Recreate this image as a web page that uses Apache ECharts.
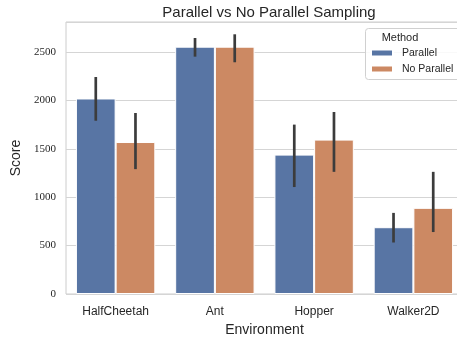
<!DOCTYPE html>
<html>
<head>
<meta charset="utf-8">
<script src="https://cdn.jsdelivr.net/npm/echarts@6/dist/echarts.min.js"></script>
<style>
  html, body { margin: 0; padding: 0; background: #fff; }
  #chart { width: 457px; height: 339px; }
</style>
</head>
<body>
<div id="chart"></div>
<script>
// Environments on the x axis
const environments = ['HalfCheetah', 'Ant', 'Hopper', 'Walker2D'];

// Mean score per environment
const parallelScores   = [2020, 2555, 1440, 690];
const noParallelScores = [1570, 2555, 1595, 890];

// Confidence interval bounds (low / high)
const parallelLow    = [1790, 2452, 1105, 532];
const parallelHigh   = [2242, 2645, 1750, 838];
const noParallelLow  = [1290, 2394, 1262, 640];
const noParallelHigh = [1870, 2683, 1880, 1262];

// Y axis ticks
const yTicks = [0, 500, 1000, 1500, 2000, 2500];

const ink = '#262626';
const blue = '#5875a4';
const orange = '#cc8963';

function errorSeries(name, low, high, offset) {
  return {
    type: 'custom',
    name: name + ' CI',
    z: 5,
    silent: true,
    data: low.map((v, i) => [i, v, high[i]]),
    encode: { x: 0, y: [1, 2] },
    renderItem: function (params, api) {
      const i = api.value(0);
      const lo = api.coord([i, api.value(1)]);
      const hi = api.coord([i, api.value(2)]);
      const band = api.size([1, 0])[0];
      const x = lo[0] + offset * band;
      return {
        type: 'line',
        shape: { x1: x, y1: lo[1], x2: x, y2: hi[1] },
        style: { stroke: '#3c3c3c', lineWidth: 2.7 }
      };
    }
  };
}

const chart = echarts.init(document.getElementById('chart'));
chart.setOption({
  animation: false,
  backgroundColor: '#fff',
  title: {
    text: 'Parallel vs No Parallel Sampling',
    left: 264,
    textAlign: 'center',
    top: 2,
    padding: [3, 5, 3, 5],
    textStyle: { fontFamily: 'Liberation Sans', fontSize: 15, fontWeight: 'normal', color: ink }
  },
  grid: {
    left: 66, top: 22, width: 397, height: 272,
    outerBoundsMode: 'none',
    containLabel: false,
    show: true, borderColor: '#cccccc', borderWidth: 1
  },
  legend: {
    orient: 'vertical',
    left: 370, top: 47.5,
    padding: 0,
    itemWidth: 22, itemHeight: 7, itemGap: 5,
    icon: 'rect',
    z: 12,
    data: ['Parallel', 'No Parallel'],
    textStyle: { fontFamily: 'Liberation Sans', fontSize: 10.5, color: ink, padding: [0, 0, 0, 4] }
  },
  graphic: [
    {
      type: 'rect', z: 10,
      shape: { x: 365.5, y: 28.5, width: 100, height: 51, r: 3 },
      style: { fill: 'rgba(255,255,255,0.85)', stroke: '#d0d0d0', lineWidth: 1 }
    },
    {
      type: 'text', z: 12,
      style: {
        x: 400, y: 37.5, text: 'Method', textAlign: 'center', textVerticalAlign: 'middle',
        font: '11px "Liberation Sans"', fill: ink
      }
    }
  ],
  xAxis: {
    type: 'category',
    data: environments,
    name: 'Environment',
    nameLocation: 'middle',
    nameGap: 24,
    nameTextStyle: { fontFamily: 'Liberation Sans', fontSize: 14, color: ink },
    axisLine: { show: false },
    axisTick: { show: false },
    axisLabel: { fontFamily: 'Liberation Sans', fontSize: 12, color: ink, margin: 12 }
  },
  yAxis: {
    type: 'value',
    min: 0, max: 2810, interval: 500,
    name: 'Score',
    nameLocation: 'middle',
    nameGap: 33,
    nameTextStyle: { fontFamily: 'Liberation Sans', fontSize: 14, color: ink },
    axisLine: { show: false },
    axisTick: { show: false },
    axisLabel: {
      fontFamily: 'Liberation Serif', fontSize: 11, color: ink, margin: 10,
      formatter: v => (yTicks.indexOf(v) >= 0 ? String(v) : '')
    },
    splitLine: { lineStyle: { color: '#d5d5d5', width: 1 } }
  },
  series: [
    {
      type: 'bar', name: 'Parallel', data: parallelScores,
      barGap: '0%', barCategoryGap: '20%',
      itemStyle: { color: blue, borderColor: '#fff', borderWidth: 1 }
    },
    {
      type: 'bar', name: 'No Parallel', data: noParallelScores,
      barGap: '0%', barCategoryGap: '20%',
      itemStyle: { color: orange, borderColor: '#fff', borderWidth: 1 }
    },
    errorSeries('Parallel', parallelLow, parallelHigh, -0.2),
    errorSeries('No Parallel', noParallelLow, noParallelHigh, 0.2)
  ]
});
</script>
</body>
</html>
